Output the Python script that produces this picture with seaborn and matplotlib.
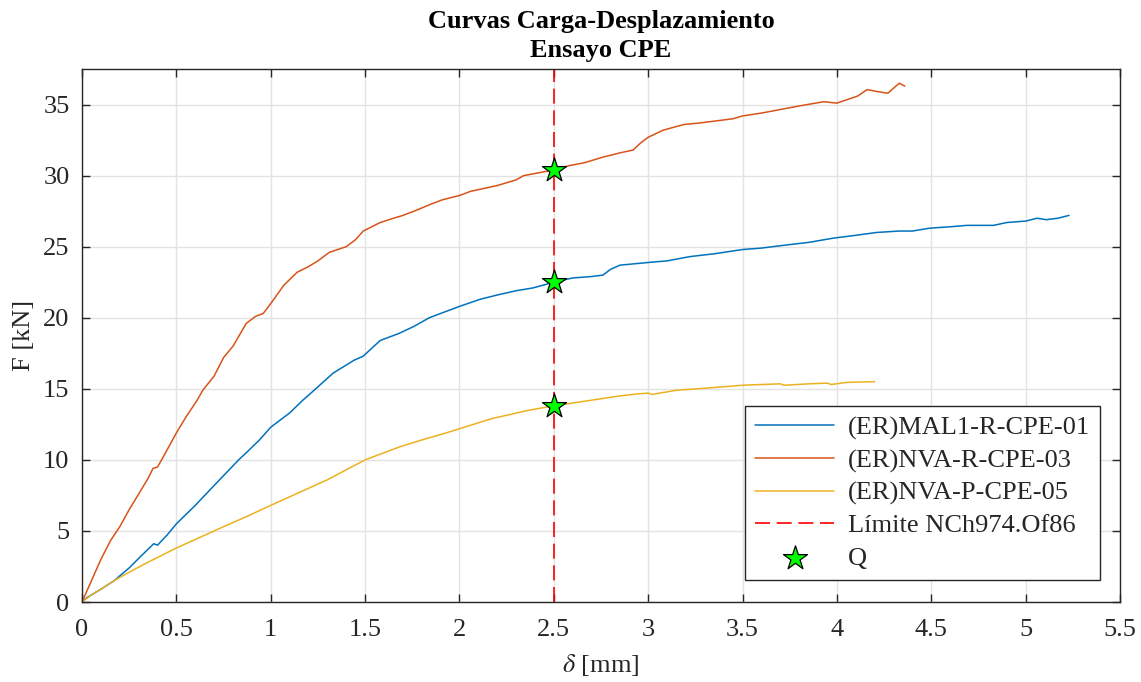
import numpy as np
import pandas as pd
import matplotlib
matplotlib.use("Agg")
import matplotlib.pyplot as plt
import seaborn as sns

# Curve (ER)MAL1-R-CPE-01
mal1_x = [0, 0.025, 0.1, 0.17, 0.25, 0.31, 0.38, 0.40, 0.45, 0.50,
          0.6, 0.70, 0.83, 0.87, 0.94, 1.0, 1.1, 1.17, 1.23, 1.33,
          1.44, 1.49, 1.58, 1.68, 1.76, 1.84, 1.92, 2.0, 2.11, 2.2,
          2.3, 2.39, 2.5, 2.6, 2.7, 2.76, 2.8, 2.85, 3.01, 3.1,
          3.22, 3.35, 3.50, 3.6, 3.72, 3.85, 3.98, 4.1, 4.21, 4.33,
          4.40, 4.49, 4.6, 4.69, 4.83, 4.90, 5.0, 5.06, 5.11, 5.17, 5.23]
mal1_y = [0, 0.3, 0.9, 1.5, 2.4, 3.2, 4.1, 4.0, 4.7, 5.5,
          6.8, 8.2, 10.0, 10.5, 11.4, 12.3, 13.3, 14.2, 14.9, 16.1,
          17.0, 17.3, 18.4, 18.9, 19.4, 20.0, 20.4, 20.8, 21.3, 21.6,
          21.9, 22.1, 22.5, 22.8, 22.9, 23.0, 23.4, 23.7, 23.9, 24.0,
          24.3, 24.5, 24.8, 24.9, 25.1, 25.3, 25.6, 25.8, 26.0, 26.1,
          26.1, 26.3, 26.4, 26.5, 26.5, 26.7, 26.8, 27.0, 26.9, 27.0, 27.2]

# Curve (ER)NVA-R-CPE-03
nva_r_x = [0, 0.03, 0.06, 0.1, 0.15, 0.2, 0.25, 0.3, 0.35, 0.376,
           0.40, 0.43, 0.5, 0.55, 0.61, 0.64, 0.7, 0.75, 0.8, 0.87,
           0.92, 0.96, 1.0, 1.07, 1.14, 1.2, 1.25, 1.31, 1.40, 1.45,
           1.49, 1.58, 1.65, 1.70, 1.76, 1.85, 1.91, 2.0, 2.06, 2.13,
           2.2, 2.30, 2.34, 2.42, 2.5, 2.58, 2.66, 2.76, 2.85, 2.92,
           2.96, 3.0, 3.08, 3.19, 3.27, 3.33, 3.45, 3.50, 3.6, 3.72,
           3.8, 3.93, 4.0, 4.11, 4.16, 4.22, 4.27, 4.33, 4.36]
nva_r_y = [0, 0.9, 1.8, 3.0, 4.3, 5.3, 6.5, 7.6, 8.7, 9.4,
           9.5, 10.2, 11.9, 13.0, 14.2, 14.9, 15.9, 17.2, 18.0, 19.6,
           20.1, 20.3, 21.0, 22.3, 23.2, 23.6, 24.0, 24.6, 25.0, 25.5,
           26.1, 26.7, 27.0, 27.2, 27.5, 28.0, 28.3, 28.6, 28.9, 29.1,
           29.3, 29.7, 30.0, 30.2, 30.4, 30.7, 30.9, 31.3, 31.6, 31.8,
           32.3, 32.7, 33.2, 33.6, 33.7, 33.8, 34.0, 34.2, 34.4, 34.7,
           34.9, 35.2, 35.1, 35.6, 36.05, 35.9, 35.8, 36.5, 36.3]

# Curve (ER)NVA-P-CPE-05
nva_p_x = [0, 0.05, 0.1, 0.17, 0.25, 0.35, 0.5, 0.6, 0.75, 0.87,
           1.0, 1.15, 1.30, 1.40, 1.50, 1.58, 1.68, 1.8, 1.93, 2.05,
           2.17, 2.27, 2.37, 2.5, 2.6, 2.70, 2.85, 2.95, 3.0, 3.02,
           3.15, 3.31, 3.51, 3.70, 3.72, 3.85, 3.95, 3.97, 4.05, 4.20]
nva_p_y = [0, 0.5, 0.9, 1.5, 2.1, 2.8, 3.8, 4.4, 5.3, 6.0,
           6.8, 7.7, 8.6, 9.3, 10.0, 10.4, 10.9, 11.4, 11.9, 12.4,
           12.9, 13.2, 13.5, 13.8, 14.0, 14.2, 14.5, 14.65, 14.7, 14.6,
           14.9, 15.05, 15.26, 15.35, 15.25, 15.35, 15.4, 15.3, 15.45, 15.5]

series_names = ["(ER)MAL1-R-CPE-01", "(ER)NVA-R-CPE-03", "(ER)NVA-P-CPE-05"]
series_colors = ["#0072BD", "#D95319", "#EDB120"]

limit_x = 2.5
limit_label = "Límite NCh974.Of86"
q_x = [2.5, 2.5, 2.5]
q_y = [22.5, 30.4, 13.8]

sns.set_style("whitegrid")
plt.rcParams["font.family"] = ["Liberation Serif", "DejaVu Serif"]
plt.rcParams["mathtext.fontset"] = "stix"

fig = plt.figure(figsize=(11.41, 6.82), dpi=100)
ax = fig.add_axes([0.0719, 0.1173, 0.9097, 0.7815])

frames = []
for name, xs, ys in zip(series_names, [mal1_x, nva_r_x, nva_p_x], [mal1_y, nva_r_y, nva_p_y]):
    frames.append(pd.DataFrame({"d": xs, "F": ys, "serie": name}))
df = pd.concat(frames, ignore_index=True)

sns.lineplot(data=df, x="d", y="F", hue="serie", palette=series_colors,
             sort=False, estimator=None, linewidth=1.1, ax=ax)

ax.axvline(limit_x, color="#FF0000", linestyle=(0, (9, 4)), linewidth=1.2, label=limit_label)
sns.scatterplot(x=q_x, y=q_y, marker="*", s=330, color="#00FF00", edgecolor="black",
                linewidth=0.9, zorder=5, label="Q", ax=ax)

ax.set_xlim(0, 5.5)
ax.set_ylim(0, 37.5)
ax.set_xticks(np.arange(0, 5.51, 0.5))
ax.set_xticklabels(["0", "0.5", "1", "1.5", "2", "2.5", "3", "3.5", "4", "4.5", "5", "5.5"])
ax.set_yticks(np.arange(0, 36, 5))

ax.grid(True, color="#E3E3E3", linewidth=1.0)
ax.set_axisbelow(True)
for sp in ax.spines.values():
    sp.set_color("#262626")
    sp.set_linewidth(1.0)
ax.tick_params(direction="in", length=6, width=1.0, color="#262626", labelsize=19,
               labelcolor="#262626", top=True, right=True, bottom=True, left=True)
ax.tick_params(axis="x", pad=12)
ax.tick_params(axis="y", pad=9)

ax.set_xlabel(r"$\delta$ [mm]", fontsize=19, color="#262626", labelpad=8)
ax.set_ylabel("F [kN]", fontsize=19, color="#262626", labelpad=6)
ax.set_title("Curvas Carga-Desplazamiento\nEnsayo CPE", fontsize=19, fontweight="bold",
             color="black", linespacing=1.3, pad=9)

handles, labels = ax.get_legend_handles_labels()
leg = ax.legend(handles, labels, loc="lower right", bbox_to_anchor=(0.981, 0.041),
                fontsize=19, frameon=True, fancybox=False, framealpha=1,
                edgecolor="#262626", handlelength=3.0, handletextpad=0.5,
                borderpad=0.4, labelspacing=0.33, borderaxespad=0)
leg.get_frame().set_linewidth(1.0)

fig.savefig("out.png", dpi=100)
